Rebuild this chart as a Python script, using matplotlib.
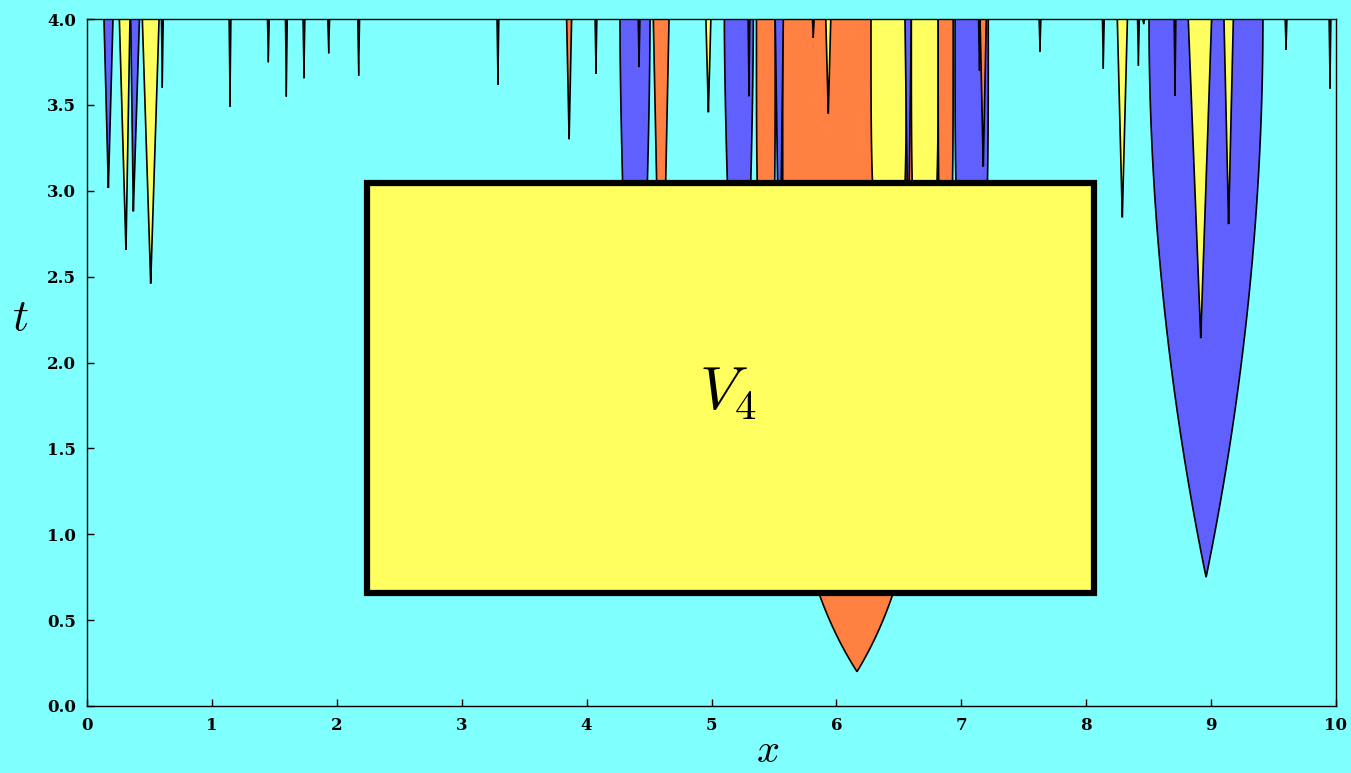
import numpy as np
import matplotlib
matplotlib.use('Agg')
import matplotlib.pyplot as plt
from matplotlib.patches import Rectangle

plt.rcParams['mathtext.fontset'] = 'cm'

BG = '#80FFFF'
BLUE = '#6060FF'
YELLOW = '#FFFF60'
ORANGE = '#FF8040'
T_TOP = 4.0

# ---- wide spikes: apex x, apex t, left x at top, right x at top, shape exponent, colour
spike_x0 = [6.165, 8.96, 4.387, 4.597, 5.228, 5.45, 5.545, 6.43, 6.575, 6.69, 6.865, 7.085, 7.176,
            0.171, 0.312, 0.371, 0.51,
            3.86, 4.975, 5.935,
            8.289, 8.917, 9.14]
spike_tmin = [0.20, 0.75, 1.2, 1.77, 1.34, 2.14, 2.27, 2.2, 2.6, 2.2, 2.2, 2.0, 3.14,
              3.016, 2.655, 2.88, 2.46,
              3.30, 3.457, 3.45,
              2.845, 2.142, 2.806]
spike_xl = [5.57, 8.503, 4.267, 4.534, 5.103, 5.36, 5.51, 6.277, 6.549, 6.60, 6.815, 6.95, 7.15,
            0.136, 0.259, 0.35, 0.443,
            3.84, 4.955, 5.915,
            8.249, 8.817, 9.103]
spike_xr = [6.73, 9.415, 4.508, 4.66, 5.335, 5.51, 5.575, 6.56, 6.60, 6.815, 6.935, 7.216, 7.20,
            0.208, 0.344, 0.42, 0.577,
            3.88, 4.995, 5.955,
            8.33, 9.004, 9.178]
spike_q = [5.6, 2.0, 1.6, 1.0, 1.6, 4.0, 1.0, 4.0, 1.0, 4.0, 4.0, 4.0, 1.0,
           1.0, 1.0, 1.0, 1.0,
           1.0, 1.0, 1.0,
           1.0, 1.0, 1.0]
spike_color = [ORANGE, BLUE, BLUE, ORANGE, BLUE, ORANGE, BLUE, YELLOW, BLUE, YELLOW, ORANGE, BLUE, ORANGE,
               BLUE, YELLOW, BLUE, YELLOW,
               ORANGE, YELLOW, YELLOW,
               YELLOW, YELLOW, YELLOW]

# ---- hair-thin spikes: apex x, apex t
thin_x0 = [0.603, 1.145, 1.452, 1.596, 1.737, 1.935, 2.175, 3.29, 4.075, 4.42, 5.30, 5.815,
           7.145, 7.63, 8.137, 8.418, 8.46, 8.711, 9.60, 9.952]
thin_tmin = [3.60, 3.49, 3.748, 3.548, 3.655, 3.80, 3.67, 3.616, 3.68, 3.72, 3.55, 3.89,
             3.70, 3.81, 3.71, 3.728, 3.97, 3.553, 3.82, 3.595]

# ---- box
box_x = [2.24, 8.06]
box_t = [0.658, 3.045]
box_label = r'$V_4$'

xticks = list(range(0, 11))
yticks = [0.0, 0.5, 1.0, 1.5, 2.0, 2.5, 3.0, 3.5, 4.0]

fig = plt.figure(figsize=(13.51, 7.73), dpi=100, facecolor=BG)
ax = fig.add_axes([87/1351, 1-706/773, (1336-87)/1351, (706-19)/773])
ax.set_facecolor(BG)


def draw_spike(x0, tmin, xl, xr, q, color, lw=1.2):
    t = np.linspace(tmin, T_TOP, 200)
    s = (T_TOP - t) / (T_TOP - tmin)
    f = 1 - s ** q
    left = x0 - (x0 - xl) * f
    right = x0 + (xr - x0) * f
    xs = np.concatenate([left[::-1], right])
    ts = np.concatenate([t[::-1], t])
    ax.fill(xs, ts, facecolor=color, edgecolor='black', linewidth=lw, zorder=2)


for x0, tm, xl, xr, q, c in zip(spike_x0, spike_tmin, spike_xl, spike_xr, spike_q, spike_color):
    draw_spike(x0, tm, xl, xr, q, c)

for x0, tm in zip(thin_x0, thin_tmin):
    draw_spike(x0, tm, x0 - 0.008, x0 + 0.008, 1.0, 'black', lw=1.0)

ax.add_patch(Rectangle((box_x[0], box_t[0]), box_x[1] - box_x[0], box_t[1] - box_t[0],
                       facecolor=YELLOW, edgecolor='black', linewidth=4.5, zorder=5))
ax.text((box_x[0] + box_x[1]) / 2 - 0.02, (box_t[0] + box_t[1]) / 2 - 0.03, box_label,
        fontsize=44, ha='center', va='center', zorder=6)

ax.set_xlim(0, 10)
ax.set_ylim(0, 4)
ax.set_xticks(xticks)
ax.set_xticklabels([str(v) for v in xticks])
ax.set_yticks(yticks)
ax.set_yticklabels([f'{v:.1f}' for v in yticks])
ax.tick_params(direction='in', length=5, width=1, pad=8)
for lab in ax.get_xticklabels() + ax.get_yticklabels():
    lab.set_fontfamily('DejaVu Serif')
    lab.set_fontweight('bold')
    lab.set_fontsize(12)
for sp in ax.spines.values():
    sp.set_linewidth(1.0)
    sp.set_zorder(7)

fig.text(768/1351, 1-751/773, r'$x$', fontsize=29, ha='center', va='center')
fig.text(20/1351, 1-318/773, r'$t$', fontsize=32, ha='center', va='center')

fig.savefig('out.png', dpi=100, facecolor=BG)
